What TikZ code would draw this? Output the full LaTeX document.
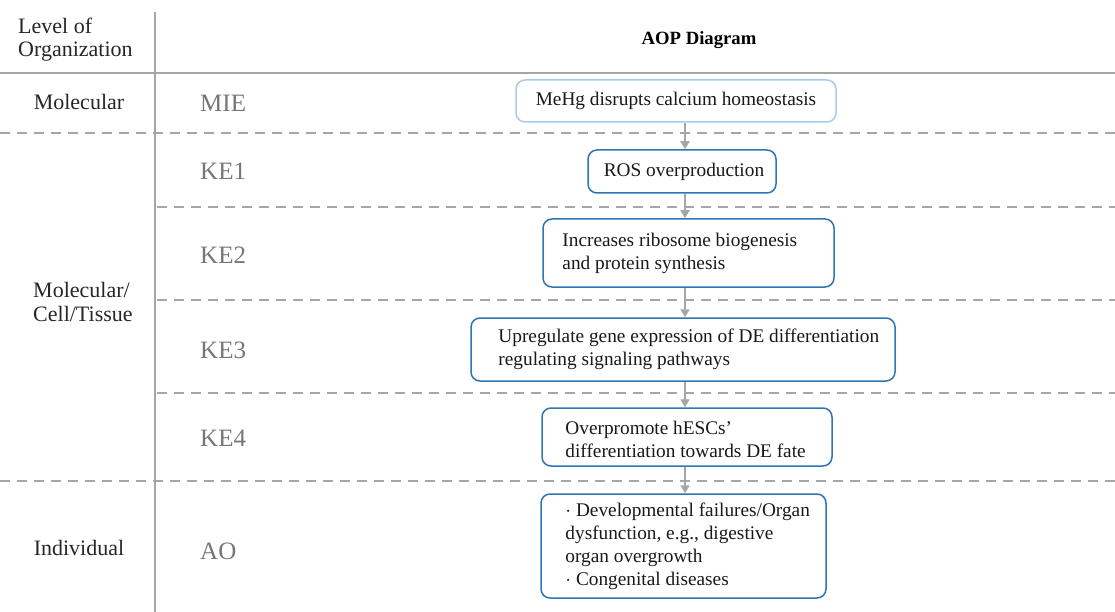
\documentclass[tikz,border=0pt]{standalone}
\usepackage{fontspec}
\setmainfont{Liberation Serif}
\usetikzlibrary{arrows.meta}
\definecolor{rule}{HTML}{A6A6A6}
\definecolor{stagegray}{HTML}{767676}
\definecolor{boxblue}{HTML}{2E75B6}
\definecolor{boxlight}{HTML}{A9CBEA}
\tikzset{
  x=1pt, y=-1pt,
  solidrule/.style={draw=rule, line width=2pt},
  dashrule/.style={draw=rule, line width=2pt, dash pattern=on 10pt off 7pt},
  level/.style={font=\fontsize{22}{24}\selectfont, text=black!85, inner sep=0pt},
  stage/.style={font=\fontsize{25}{28}\selectfont, text=stagegray, anchor=west, inner sep=0pt},
  event/.style={draw=boxblue, line width=1.5pt, rounded corners=9pt, fill=white, inner sep=0pt},
  eventtext/.style={font=\fontsize{19.3}{23}\selectfont, text=black!90, inner sep=0pt, align=left},
  flow/.style={draw=rule, line width=1.8pt, -{Triangle[length=8pt,width=9pt]}},
}
\begin{document}
\begin{tikzpicture}
\useasboundingbox (0,0) rectangle (1115,612);
% table grid
\draw[solidrule] (155,12) -- (155,612);
\draw[solidrule] (0,73) -- (1115,73);
\draw[dashrule] (0,133) -- (1115,133);
\draw[dashrule] (157,207) -- (1115,207);
\draw[dashrule] (157,300) -- (1115,300);
\draw[dashrule] (157,393) -- (1115,393);
\draw[dashrule] (0,481) -- (1115,481);
% header
\node[level, font=\fontsize{22}{23}\selectfont, anchor=west, align=left] (hdr) at (18,40) {Level of\\Organization};
\node[font=\fontsize{18.7}{22}\selectfont\bfseries, inner sep=0pt] (aop) at (699,40) {AOP Diagram};
% levels of organization
\node[level] (lmol) at (79,102) {Molecular};
\node[level, anchor=west, align=left] (lcell) at (33,302) {Molecular/\\Cell/Tissue};
\node[level] (lind) at (79,548) {Individual};
% stage labels
\node[stage] (smie) at (200,103) {MIE};
\node[stage] (ske1) at (200,171) {KE1};
\node[stage] (ske2) at (200,255) {KE2};
\node[stage] (ske3) at (200,350) {KE3};
\node[stage] (ske4) at (200,438) {KE4};
\node[stage] (sao) at (200,551) {AO};
% key event boxes
\node[event, draw=boxlight, minimum width=320pt, minimum height=42pt] (mie) at (676,101) {};
\node[eventtext] (mie-t) at (676,101) {MeHg disrupts calcium homeostasis};
\node[event, minimum width=188pt, minimum height=43pt] (ke1) at (682,171.5) {};
\node[eventtext] (ke1-t) at (684,172) {ROS overproduction};
\node[event, minimum width=291pt, minimum height=68pt] (ke2) at (688.5,253) {};
\node[eventtext, anchor=west] (ke2-t) at ([xshift=20pt]ke2.west)
  {Increases ribosome biogenesis\\and protein synthesis};
\node[event, minimum width=424pt, minimum height=63pt] (ke3) at (683,349.5) {};
\node[eventtext, anchor=west] (ke3-t) at ([xshift=28pt]ke3.west)
  {Upregulate gene expression of DE differentiation\\regulating signaling pathways};
\node[event, minimum width=290pt, minimum height=58pt] (ke4) at (687,437) {};
\node[eventtext, anchor=west] (ke4-t) at ([xshift=24pt,yshift=-2pt]ke4.west)
  {Overpromote hESCs'\\differentiation towards DE fate};
\node[event, minimum width=285pt, minimum height=104pt] (ao) at (683.5,546) {};
\node[eventtext, anchor=west] (ao-t) at ([xshift=25pt]ao.west)
  {$\cdot$ Developmental failures/Organ\\dysfunction, e.g., digestive\\organ overgrowth\\$\cdot$ Congenital diseases};
% connectors
\coordinate (spine) at (685,0);
\draw[flow] (mie.south -| spine) -- (ke1.north -| spine);
\draw[flow] (ke1.south -| spine) -- (ke2.north -| spine);
\draw[flow] (ke2.south -| spine) -- (ke3.north -| spine);
\draw[flow] (ke3.south -| spine) -- (ke4.north -| spine);
\draw[flow] (ke4.south -| spine) -- (ao.north -| spine);
\end{tikzpicture}
\end{document}
